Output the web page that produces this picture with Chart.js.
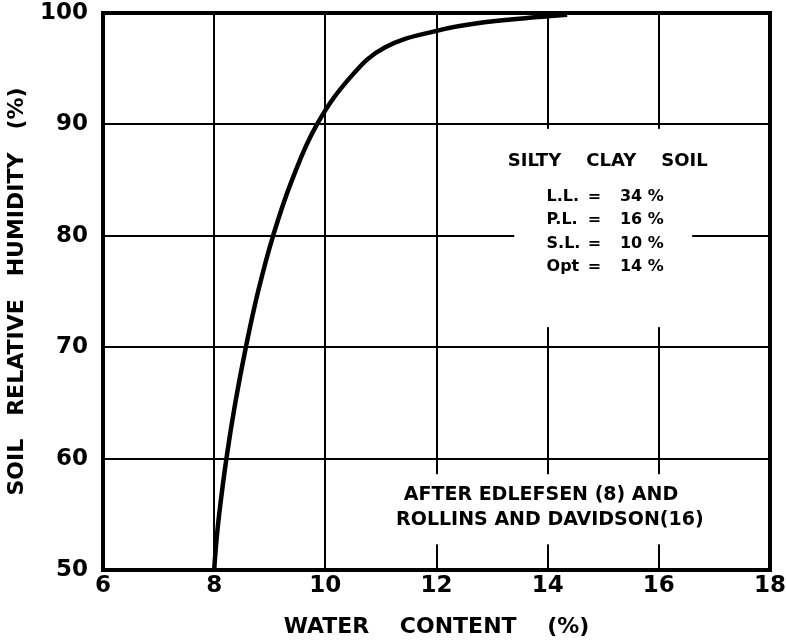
<!DOCTYPE html>
<html>
<head>
<meta charset="utf-8">
<script src="https://cdn.jsdelivr.net/npm/chart.js@4.4.1/dist/chart.umd.min.js"></script>
<style>
  html, body { margin: 0; padding: 0; background: #fff; }
  #wrap { width: 786px; height: 640px; }
</style>
</head>
<body>
<div id="wrap"><canvas id="soil-chart"></canvas></div>
<script>
// water content (%) vs soil relative humidity (%)
const waterContent = [8.0, 8.03, 8.09, 8.22, 8.38, 8.57, 8.79, 9.06, 9.4, 9.85, 10.48, 11.07, 12.0, 12.86, 14.0, 14.35];
const humidity = [50, 52, 55, 60, 65, 70, 75, 80, 85, 90, 94.4, 96.9, 98.4, 99.17, 99.7, 99.85];

const xTicks = [6, 8, 10, 12, 14, 16, 18];
const yTicks = [50, 60, 70, 80, 90, 100];

const soilTitle = 'SILTY    CLAY    SOIL';
const limitNames = ['L.L.', 'P.L.', 'S.L.', 'Opt'];
const limitValues = ['34 %', '16 %', '10 %', '14 %'];
const sourceLines = ['AFTER EDLEFSEN (8) AND', 'ROLLINS AND DAVIDSON(16)'];

const FONT = '"DejaVu Sans", sans-serif';

// blank the grid behind the two notes, write them, then the heavy frame
const notesPlugin = {
  id: 'notes',
  beforeDatasetsDraw(chart) {
    const {ctx, scales: {x, y}} = chart;
    const box = (x0, x1, y0, y1) => {
      const l = x.getPixelForValue(x0), r = x.getPixelForValue(x1);
      const t = y.getPixelForValue(y1), b = y.getPixelForValue(y0);
      ctx.fillRect(l, t, r - l, b - t);
    };
    ctx.save();
    ctx.fillStyle = '#fff';
    box(13.4, 16.6, 71.8, 89.6);
    box(11.3, 17.8, 52.3, 58.6);
    ctx.restore();
  },
  afterDatasetsDraw(chart) {
    const {ctx, chartArea: a, scales: {x, y}} = chart;
    ctx.save();
    ctx.fillStyle = '#000';
    ctx.textBaseline = 'middle';

    ctx.font = 'bold 18px ' + FONT;
    ctx.textAlign = 'center';
    ctx.fillText(soilTitle, x.getPixelForValue(15.08), y.getPixelForValue(86.68));

    ctx.font = 'bold 16px ' + FONT;
    ctx.textAlign = 'left';
    const left = x.getPixelForValue(13.98);
    const eq = x.getPixelForValue(14.72);
    const val = x.getPixelForValue(15.3);
    limitNames.forEach((name, i) => {
      const py = y.getPixelForValue(83.5 - i * 2.09);
      ctx.fillText(name, left, py);
      ctx.fillText('=', eq, py);
      ctx.fillText(limitValues[i], val, py);
    });

    ctx.font = 'bold 19px ' + FONT;
    ctx.textAlign = 'center';
    ctx.fillText(sourceLines[0], x.getPixelForValue(13.88), y.getPixelForValue(56.73));
    ctx.fillText(sourceLines[1], x.getPixelForValue(14.04), y.getPixelForValue(54.5));

    ctx.strokeStyle = '#000';
    ctx.lineWidth = 4;
    ctx.strokeRect(a.left, a.top, a.right - a.left, a.bottom - a.top);
    ctx.restore();
  }
};

document.addEventListener('DOMContentLoaded', () => {
  const points = waterContent.map((w, i) => ({x: w, y: humidity[i]}));

  const config = {
    type: 'scatter',
    data: {
      datasets: [{
        data: points,
        showLine: true,
        borderColor: '#000',
        borderWidth: 4.5,
        pointRadius: 0,
        tension: 0.4
      }]
    },
    options: {
      responsive: true,
      maintainAspectRatio: false,
      animation: false,
      layout: { padding: { top: 13, right: 16, left: 0, bottom: 0 } },
      plugins: {
        legend: { display: false },
        tooltip: { enabled: false }
      },
      scales: {
        x: {
          type: 'linear',
          min: 6,
          max: 18,
          afterBuildTicks: s => { s.ticks = xTicks.map(v => ({value: v})); },
          afterFit: s => {
            s.height = 70;
            s.paddingLeft = 0;
            s.paddingRight = 0;
          },
          grid: { color: '#000', lineWidth: 2, drawTicks: false },
          border: { color: '#000', width: 4 },
          ticks: { color: '#000', padding: 2, font: { family: FONT, size: 23, weight: 'bold' } },
          title: {
            display: true,
            text: 'WATER    CONTENT    (%)',
            color: '#000',
            padding: { top: 0, bottom: 0 },
            font: { family: FONT, size: 22, weight: 'bold' }
          }
        },
        y: {
          type: 'linear',
          min: 50,
          max: 100,
          afterBuildTicks: s => { s.ticks = yTicks.map(v => ({value: v})); },
          afterFit: s => {
            s.width = 103;
            s.paddingTop = 0;
            s.paddingBottom = 0;
          },
          grid: { color: '#000', lineWidth: 2, drawTicks: false },
          border: { color: '#000', width: 4 },
          ticks: { color: '#000', padding: 15, font: { family: FONT, size: 23, weight: 'bold' } },
          title: {
            display: true,
            text: 'SOIL   RELATIVE   HUMIDITY   (%)',
            color: '#000',
            padding: { top: 4, bottom: 0 },
            font: { family: FONT, size: 22, weight: 'bold' }
          }
        }
      }
    },
    plugins: [notesPlugin]
  };

  new Chart(document.getElementById('soil-chart'), config);
});
</script>
</body>
</html>
